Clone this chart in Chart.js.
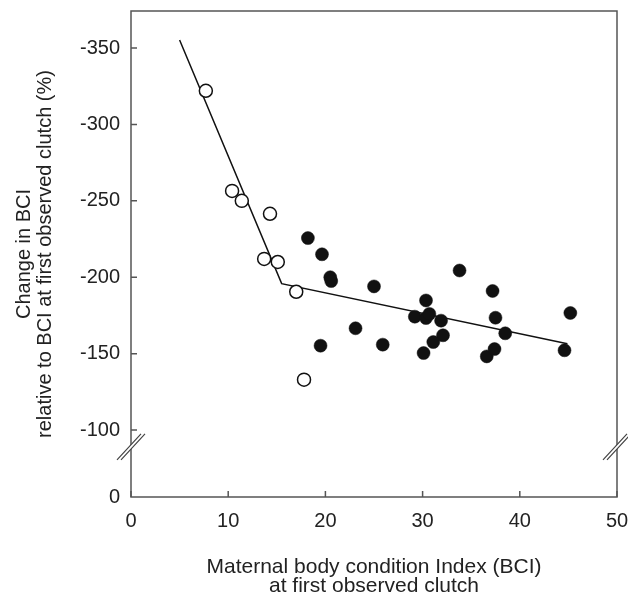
<!DOCTYPE html>
<html>
<head>
<meta charset="utf-8">
<script src="https://cdn.jsdelivr.net/npm/chart.js@4/dist/chart.umd.min.js"></script>
<style>
  html, body { margin: 0; padding: 0; background: #fff; }
  #wrap { width: 628px; height: 596px; }
</style>
</head>
<body>
<div id="wrap"><canvas id="c" width="628" height="596"></canvas></div>
<script>
// open circles (individuals below the breakpoint)
const openX = [7.7, 10.4, 11.4, 14.3, 13.7, 15.1, 17.0, 17.8];
const openY = [-322, -256.5, -250, -241.5, -212, -210, -190.5, -133];

// filled circles
const fillX = [18.2, 19.65, 20.5, 20.6, 25.0, 33.8, 37.2, 30.35, 29.2, 30.35, 30.7, 31.9,
  37.5, 45.2, 23.1, 32.1, 38.5, 31.1, 19.5, 25.9, 30.1, 36.6, 37.4, 44.6];
const fillY = [-225.6, -215, -200, -197.5, -194, -204.4, -191, -184.8, -174.2, -173.3, -176, -171.6,
  -173.5, -176.6, -166.6, -162, -163.3, -157.6, -155.2, -155.9, -150.4, -148.2, -153, -152.2];

// segmented regression line
const fitX = [5.0, 15.5, 44.9];
const fitY = [-355.2, -195.8, -156.5];

const xTicks = [0, 10, 20, 30, 40, 50];
const yTicks = [-350, -300, -250, -200, -150, -100];
const yMin = -374.2;
const yMax = -56.2;   // shown as "0" after the axis break
const breakAt = -89;

function pts(xs, ys) {
  return xs.map(function(x, i) { return { x: x, y: ys[i] }; });
}

const ink = '#111';
const frame = '#555';

const framePlugin = {
  id: 'frame',
  afterDraw: function(chart) {
    const ctx = chart.ctx;
    const a = chart.chartArea;
    const xs = chart.scales.x, ys = chart.scales.y;
    ctx.save();
    ctx.strokeStyle = frame;
    ctx.lineWidth = 1.5;
    ctx.strokeRect(a.left, a.top, a.right - a.left, a.bottom - a.top);
    // inward ticks
    ctx.beginPath();
    xTicks.forEach(function(v) {
      const px = xs.getPixelForValue(v);
      ctx.moveTo(px, a.bottom);
      ctx.lineTo(px, a.bottom - 6);
    });
    yTicks.forEach(function(v) {
      const py = ys.getPixelForValue(v);
      ctx.moveTo(a.left, py);
      ctx.lineTo(a.left + 6, py);
    });
    ctx.stroke();
    // axis break marks
    const by = ys.getPixelForValue(breakAt);
    [a.left, a.right].forEach(function(bx) {
      ctx.fillStyle = '#fff';
      ctx.beginPath();
      ctx.moveTo(bx - 14, by + 13);
      ctx.lineTo(bx + 10, by - 13);
      ctx.lineTo(bx + 14, by - 13);
      ctx.lineTo(bx - 10, by + 13);
      ctx.closePath();
      ctx.fill();
      ctx.strokeStyle = '#444';
      ctx.lineWidth = 1.2;
      ctx.beginPath();
      ctx.moveTo(bx - 14, by + 13);
      ctx.lineTo(bx + 10, by - 13);
      ctx.moveTo(bx - 10, by + 13);
      ctx.lineTo(bx + 14, by - 13);
      ctx.stroke();
    });
    ctx.restore();
  }
};

const family = "'Liberation Sans', Arial, sans-serif";
const tickFont = { family: family, size: 20 };

function noOverflow(scale) {
  scale.paddingTop = 0;
  scale.paddingBottom = 0;
  scale.paddingLeft = 0;
  scale.paddingRight = 0;
}

new Chart(document.getElementById('c'), {
  type: 'scatter',
  plugins: [framePlugin],
  data: {
    datasets: [
      {
        label: 'fit',
        data: pts(fitX, fitY),
        showLine: true,
        borderColor: ink,
        borderWidth: 1.5,
        pointRadius: 0,
        order: 3
      },
      {
        label: 'open',
        data: pts(openX, openY),
        pointRadius: 6.5,
        pointBackgroundColor: '#fff',
        pointBorderColor: ink,
        pointBorderWidth: 1.5,
        order: 2
      },
      {
        label: 'filled',
        data: pts(fillX, fillY),
        pointRadius: 6.5,
        pointBackgroundColor: ink,
        pointBorderColor: ink,
        pointBorderWidth: 0.5,
        order: 1
      }
    ]
  },
  options: {
    responsive: false,
    animation: false,
    layout: { padding: { top: 11, right: 11, left: 0, bottom: 0 } },
    plugins: { legend: { display: false }, tooltip: { enabled: false } },
    scales: {
      x: {
        type: 'linear',
        min: 0,
        max: 50,
        afterBuildTicks: function(scale) {
          scale.ticks = xTicks.map(function(v) { return { value: v }; });
        },
        afterFit: function(scale) { scale.height = 99; noOverflow(scale); },
        grid: { display: false, drawTicks: false },
        border: { display: false },
        ticks: { color: '#222', font: tickFont, padding: 12, maxRotation: 0 },
        title: {
          display: true,
          text: ['Maternal body condition Index (BCI)', 'at first observed clutch'],
          color: '#222',
          font: { family: family, size: 21, lineHeight: 0.92 },
          padding: { top: 0, bottom: 0 }
        }
      },
      y: {
        type: 'linear',
        reverse: true,
        min: yMin,
        max: yMax,
        afterBuildTicks: function(scale) {
          scale.ticks = yTicks.concat([yMax]).map(function(v) { return { value: v }; });
        },
        afterFit: function(scale) { scale.width = 131; noOverflow(scale); },
        grid: { display: false, drawTicks: false },
        border: { display: false },
        ticks: {
          color: '#222',
          font: tickFont,
          padding: 11,
          callback: function(v) { return v === yMax ? '0' : String(v); }
        },
        title: {
          display: true,
          text: ['Change in BCI', 'relative to BCI at first observed clutch (%)'],
          color: '#222',
          font: { family: family, size: 20, lineHeight: 1.05 },
          padding: { top: 13.5, bottom: 0 }
        }
      }
    }
  }
});
</script>
</body>
</html>
